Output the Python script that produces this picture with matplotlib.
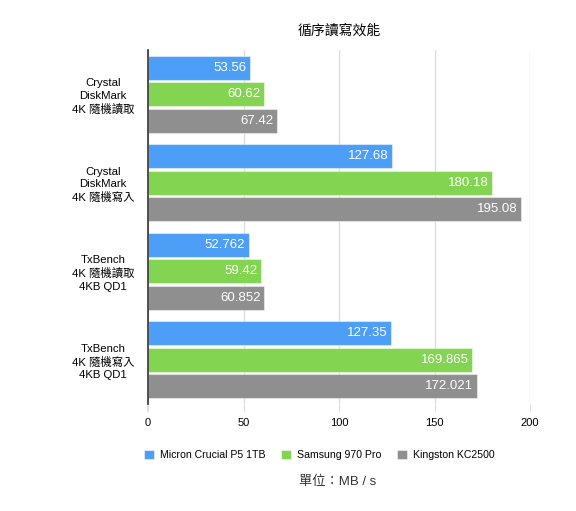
import matplotlib
matplotlib.use("Agg")
import matplotlib.pyplot as plt
import numpy as np

plt.rcParams['font.family'] = ['Liberation Sans', 'Noto Sans CJK TC', 'DejaVu Sans']

categories = ["Crystal\nDiskMark\n4K 隨機讀取", "Crystal\nDiskMark\n4K 隨機寫入",
              "TxBench\n4K 隨機讀取\n4KB QD1", "TxBench\n4K 隨機寫入\n4KB QD1"]
series_names = ["Micron Crucial P5 1TB", "Samsung 970 Pro", "Kingston KC2500"]
micron = [53.56, 127.68, 52.762, 127.35]
samsung = [60.62, 180.18, 59.42, 169.865]
kingston = [67.42, 195.08, 60.852, 172.021]
value_labels = [["53.56", "127.68", "52.762", "127.35"],
                ["60.62", "180.18", "59.42", "169.865"],
                ["67.42", "195.08", "60.852", "172.021"]]
xticks = [0, 50, 100, 150, 200]
colors = ["#4C9EF6", "#83D451", "#8F8F8F"]

fig = plt.figure(figsize=(5.76, 5.11), dpi=100)
ax = fig.add_axes([148 / 576, 1 - 404 / 511, (530 - 148) / 576, (404 - 50) / 511])

y = np.arange(len(categories))
slot = 0.3
h = 0.27
data = [micron, samsung, kingston]
for j, vals in enumerate(data):
    pos = y + (j - 1) * slot
    ax.barh(pos, vals, height=h, color=colors[j], edgecolor=(1, 1, 1, 0.45),
            linewidth=0.8, label=series_names[j], zorder=3)
    for p, v, s in zip(pos, vals, value_labels[j]):
        ax.annotate(s, (v, p), xytext=(-2.5, 0), textcoords='offset points',
                    ha='right', va='center', color='white', fontsize=9.5, zorder=4)

ax.set_ylim(3.5, -0.5)
ax.set_xlim(0, 200)
ax.set_xticks(xticks)
ax.set_xticklabels([str(t) for t in xticks], fontsize=8)
ax.set_yticks(y)
ax.set_yticklabels(categories, fontsize=8.2, linespacing=1.3)
for lab in ax.get_yticklabels():
    lab.set_multialignment('center')
ax.tick_params(axis='y', length=0, pad=10)
ax.tick_params(axis='x', length=6, color='#dddddd', pad=4)
xt = ax.xaxis.get_major_ticks()
xt[0].tick1line.set_color('#333333')
xt[0].tick1line.set_markeredgewidth(1.2)
ax.grid(axis='x', color='#dddddd', linewidth=1, zorder=0)
for s in ['top', 'right', 'bottom']:
    ax.spines[s].set_visible(False)
ax.spines['left'].set_color('#333333')
ax.spines['left'].set_linewidth(1.2)
ax.spines['left'].set_zorder(5)
ax.set_axisbelow(True)

ax.set_title("循序讀寫效能", fontsize=10, pad=11)

leg = fig.legend(*ax.get_legend_handles_labels(), loc='center', bbox_to_anchor=(319 / 576, 1 - 455 / 511),
                 ncol=3, frameon=False, fontsize=7.6, handlelength=0.95, handleheight=0.95,
                 columnspacing=1.5, handletextpad=0.55)
fig.text(338 / 576, 1 - 482 / 511, "單位：MB / s", ha='center', va='center', fontsize=9.5, color='#333333')

fig.savefig("out.png", dpi=100)
